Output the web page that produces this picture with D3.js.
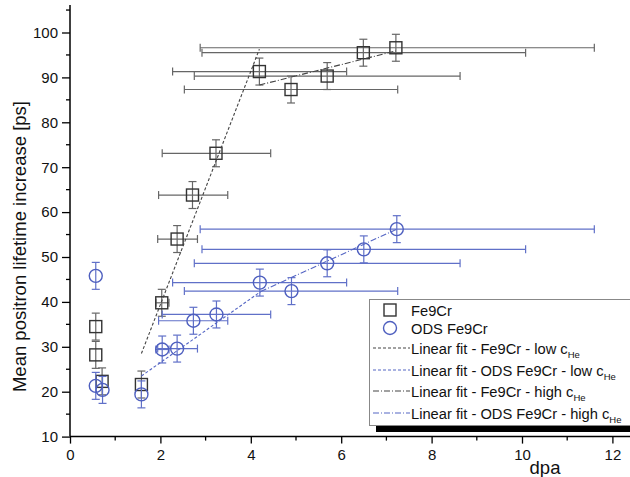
<!DOCTYPE html>
<html lang="en">
<head>
  <meta charset="UTF-8">
  <title>Mean positron lifetime increase vs dpa</title>
  <style>
    body { margin: 0; background: #fff; }
    svg { display: block; font-family: "Liberation Sans", Arial, sans-serif; }
  </style>
</head>
<body>
  <div id="chart"></div>
  <script src="https://d3js.org/d3.v7.min.js"></script>
  <script>
    // Fe9Cr (squares)
    const feDpa = [0.57, 0.57, 0.71, 1.58, 2.03, 2.37, 2.71, 3.23, 4.19, 4.89, 5.69, 6.49, 7.21];
    const feVal = [34.5, 28.2, 22.3, 21.6, 39.8, 54.0, 63.8, 73.1, 91.3, 87.3, 90.3, 95.5, 96.6];

    // ODS Fe9Cr (circles)
    const odsDpa = [0.57, 0.57, 0.72, 1.58, 2.04, 2.37, 2.73, 3.24, 4.20, 4.90, 5.69, 6.50, 7.23];
    const odsVal = [45.8, 21.3, 20.4, 19.4, 29.4, 29.6, 35.8, 37.2, 44.3, 42.4, 48.6, 51.7, 56.2];

    // dpa uncertainty (same for both materials), null = no bar
    const dpaLow  = [null, null, null, null, 1.90, 1.94, 1.96, 2.04, 2.27, 2.53, 2.75, 2.92, 2.88];
    const dpaHigh = [null, null, null, null, 2.19, 2.82, 3.49, 4.44, 6.12, 7.25, 8.63, 10.08, 11.60];
    const valErr = 3;

    // linear fits [x0, x1], [y0, y1]
    const fitFeLowX = [1.58, 4.19],  fitFeLowY = [28.5, 96.3];
    const fitOdsLowX = [1.58, 4.22], fitOdsLowY = [23.5, 42.3];
    const fitFeHighX = [4.19, 7.21], fitFeHighY = [88.3, 95.9];
    const fitOdsHighX = [4.22, 7.23], fitOdsHighY = [42.3, 56.2];

    const xTicks = [0, 2, 4, 6, 8, 10, 12];
    const yTicks = [10, 20, 30, 40, 50, 60, 70, 80, 90, 100];

    const legendItems = [
      { type: "square", label: "Fe9Cr" },
      { type: "circle", label: "ODS Fe9Cr" },
      { type: "line", color: "#444", dash: "3,2", label: "Linear fit - Fe9Cr - low c", sub: "He" },
      { type: "line", color: "#5566c4", dash: "3,2", label: "Linear fit - ODS Fe9Cr - low c", sub: "He" },
      { type: "line", color: "#444", dash: "6,2,1,2", label: "Linear fit - Fe9Cr - high c", sub: "He" },
      { type: "line", color: "#5566c4", dash: "6,2,1,2", label: "Linear fit - ODS Fe9Cr - high c", sub: "He" }
    ];

    const width = 630, height = 477;
    const black = "#333", gray = "#666", blue = "#4e5fbf";

    const svg = d3.select("#chart").append("svg")
      .attr("width", width)
      .attr("height", height);

    const x = d3.scaleLinear().domain([0, 12]).range([70, 612.4]);
    const y = d3.scaleLinear().domain([10, 100]).range([436.6, 32.5]);

    // axes
    const xAxis = d3.axisBottom(x).tickValues(xTicks).tickSize(7).tickPadding(6).tickFormat(d3.format("d"));
    const yAxis = d3.axisLeft(y).tickValues(yTicks).tickSize(8).tickPadding(4).tickFormat(d3.format("d"));

    const gx = svg.append("g").attr("transform", `translate(0,${y(10)})`).call(xAxis);
    gx.select(".domain").attr("d", `M${x(0)},0H${width}`);
    svg.append("g").attr("transform", `translate(0,${y(10)})`)
      .selectAll("line").data([1, 3, 5, 7, 9, 11]).join("line")
      .attr("x1", d => x(d)).attr("x2", d => x(d)).attr("y1", 0).attr("y2", 4)
      .attr("stroke", "#000").attr("stroke-width", 1.3);

    const gy = svg.append("g").attr("transform", `translate(${x(0)},0)`).call(yAxis);
    gy.select(".domain").attr("d", `M0,${y(10)}V5`);
    svg.append("g").attr("transform", `translate(${x(0)},0)`)
      .selectAll("line").data([15, 25, 35, 45, 55, 65, 75, 85, 95, 105]).join("line")
      .attr("x1", -4).attr("x2", 0).attr("y1", d => y(d)).attr("y2", d => y(d))
      .attr("stroke", "#000").attr("stroke-width", 1.3);

    [gx, gy].forEach(g => {
      g.select(".domain").attr("stroke-width", 1.5);
      g.selectAll(".tick line").attr("stroke-width", 1.3);
      g.selectAll(".tick text").attr("font-size", 15).attr("fill", "#111")
        .attr("font-family", "'Liberation Sans', Arial, sans-serif");
    });

    // axis titles
    svg.append("text")
      .attr("transform", `translate(26,${(y(10) + y(100)) / 2 + 12}) rotate(-90)`)
      .attr("text-anchor", "middle")
      .attr("font-size", 18.5)
      .attr("fill", "#111")
      .text("Mean positron lifetime increase [ps]");

    svg.append("text")
      .attr("x", 545).attr("y", 474)
      .attr("text-anchor", "middle")
      .attr("font-size", 18.5)
      .attr("fill", "#111")
      .text("dpa");

    // error bars and markers for one series
    function drawSeries(dpa, vals, color, barColor, shape) {
      const g = svg.append("g");
      const pts = dpa.map((d, i) => ({ x: d, y: vals[i], lo: dpaLow[i], hi: dpaHigh[i] }));
      const cap = 4;

      pts.forEach(p => {
        const cx = x(p.x), cy = y(p.y);
        // vertical error
        g.append("line").attr("x1", cx).attr("x2", cx)
          .attr("y1", y(p.y - valErr)).attr("y2", y(p.y + valErr))
          .attr("stroke", barColor).attr("stroke-width", 1.2);
        [p.y - valErr, p.y + valErr].forEach(v => {
          g.append("line").attr("x1", cx - cap).attr("x2", cx + cap)
            .attr("y1", y(v)).attr("y2", y(v))
            .attr("stroke", barColor).attr("stroke-width", 1.2);
        });
        // horizontal error
        if (p.lo !== null) {
          g.append("line").attr("x1", x(p.lo)).attr("x2", x(p.hi))
            .attr("y1", cy).attr("y2", cy)
            .attr("stroke", barColor).attr("stroke-width", 1.2);
          [p.lo, p.hi].forEach(v => {
            g.append("line").attr("x1", x(v)).attr("x2", x(v))
              .attr("y1", cy - cap).attr("y2", cy + cap)
              .attr("stroke", barColor).attr("stroke-width", 1.2);
          });
        }
      });

      if (shape === "square") {
        g.selectAll("rect").data(pts).join("rect")
          .attr("x", d => x(d.x) - 6).attr("y", d => y(d.y) - 6)
          .attr("width", 12).attr("height", 12)
          .attr("fill", "none").attr("stroke", color).attr("stroke-width", 1.4);
      } else {
        g.selectAll("circle").data(pts).join("circle")
          .attr("cx", d => x(d.x)).attr("cy", d => y(d.y)).attr("r", 6.5)
          .attr("fill", "none").attr("stroke", color).attr("stroke-width", 1.4);
      }
    }

    drawSeries(feDpa, feVal, black, gray, "square");
    drawSeries(odsDpa, odsVal, blue, "#6070c8", "circle");

    // fit lines
    const line = d3.line().x(d => x(d[0])).y(d => y(d[1]));
    function drawFit(xs, ys, color, dash) {
      svg.append("path")
        .attr("d", line(xs.map((v, i) => [v, ys[i]])))
        .attr("fill", "none").attr("stroke", color)
        .attr("stroke-width", 1.1).attr("stroke-dasharray", dash);
    }
    drawFit(fitFeLowX, fitFeLowY, "#444", "3,2");
    drawFit(fitOdsLowX, fitOdsLowY, "#5566c4", "3,2");
    drawFit(fitFeHighX, fitFeHighY, "#444", "6,2,1,2");
    drawFit(fitOdsHighX, fitOdsHighY, "#5566c4", "6,2,1,2");

    // legend with drop shadow
    const lg = svg.append("g");
    lg.append("rect").attr("x", 376).attr("y", 306).attr("width", 270).attr("height", 126).attr("fill", "#000");
    lg.append("rect").attr("x", 369.5).attr("y", 299.5).attr("width", 270).attr("height", 126)
      .attr("fill", "#fff").attr("stroke", "#888").attr("stroke-width", 1);

    const rowY = [310, 328, 348, 370, 391, 413];
    legendItems.forEach((it, i) => {
      const ry = rowY[i];
      if (it.type === "square") {
        lg.append("rect").attr("x", 384).attr("y", ry - 6).attr("width", 12).attr("height", 12)
          .attr("fill", "none").attr("stroke", black).attr("stroke-width", 1.4);
      } else if (it.type === "circle") {
        lg.append("circle").attr("cx", 390).attr("cy", ry).attr("r", 6.5)
          .attr("fill", "none").attr("stroke", blue).attr("stroke-width", 1.4);
      } else {
        lg.append("line").attr("x1", 373).attr("x2", 410).attr("y1", ry).attr("y2", ry)
          .attr("stroke", it.color).attr("stroke-width", 1.1).attr("stroke-dasharray", it.dash);
      }
      const t = lg.append("text").attr("x", 411).attr("y", ry + 5.5)
        .attr("font-size", 14.7).attr("fill", "#111").text(it.label);
      if (it.sub) {
        t.append("tspan").attr("dy", 4).attr("font-size", 9.5).text(it.sub);
      }
    });
  </script>
</body>
</html>
